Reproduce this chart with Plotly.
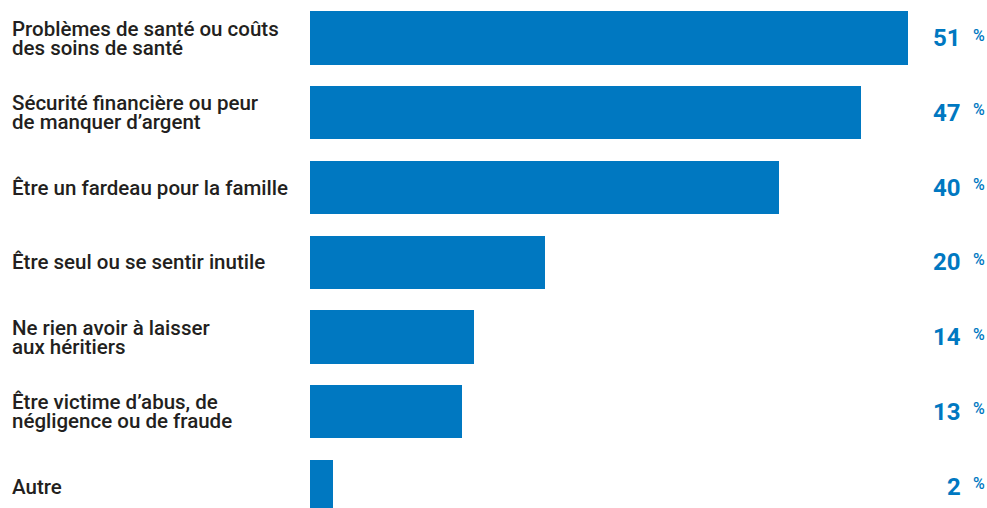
import plotly.graph_objects as go

categories = [
    "Problèmes de santé ou coûts<br>des soins de santé",
    "Sécurité financière ou peur<br>de manquer d’argent",
    "Être un fardeau pour la famille",
    "Être seul ou se sentir inutile",
    "Ne rien avoir à laisser<br>aux héritiers",
    "Être victime d’abus, de<br>négligence ou de fraude",
    "Autre",
]
values = [51, 47, 40, 20, 14, 13, 2]
value_labels = [str(v) for v in values]

BLUE = "#0078C1"
TEXT = "#231F20"
LABEL_FONT = "Roboto"
VALUE_FONT = "Roboto"

W, H = 987, 508
LEFT = 310
PX_PER_UNIT = 11.73
STEP = 74.75
FIRST_CENTER = 38

ypos = list(range(len(categories)))

fig = go.Figure(go.Bar(
    x=values, y=ypos, orientation="h",
    marker=dict(color=BLUE, line=dict(width=0)),
    width=0.71, hoverinfo="skip",
))

plot_w = W - LEFT
x_max = plot_w / PX_PER_UNIT
y_top = -FIRST_CENTER / STEP
y_bot = y_top + H / STEP

label_x = (10 - LEFT) / plot_w
num_x = (963 - LEFT) / plot_w
pct_x = (971 - LEFT) / plot_w

annotations = []
for i, (cat, lab) in enumerate(zip(categories, value_labels)):
    lines = cat.split("<br>")
    n = len(lines)
    pitch = 19
    for k, line in enumerate(lines):
        shift = ((n - 1) / 2 - k) * pitch
        annotations.append(dict(
            x=label_x, y=i, xref="paper", yref="y", text=line, showarrow=False,
            xanchor="left", yanchor="middle", yshift=shift,
            font=dict(family=LABEL_FONT, size=20.5, color=TEXT, weight=500),
        ))
    annotations.append(dict(
        x=num_x, y=i, xref="paper", yref="y", text=lab, showarrow=False,
        xanchor="right", yanchor="middle",
        font=dict(family=VALUE_FONT, size=24, color=BLUE, weight="bold"),
    ))
    annotations.append(dict(
        x=pct_x, y=i, xref="paper", yref="y", text="%", showarrow=False,
        xanchor="left", yanchor="middle", yshift=3,
        font=dict(family=LABEL_FONT, size=16, color=BLUE, weight=500),
    ))

fig.update_layout(
    width=W, height=H,
    margin=dict(l=LEFT, r=0, t=0, b=0, pad=0),
    paper_bgcolor="white", plot_bgcolor="white",
    showlegend=False,
    xaxis=dict(range=[0, x_max], visible=False, fixedrange=True),
    yaxis=dict(range=[y_bot, y_top], visible=False, fixedrange=True),
    annotations=annotations,
    bargap=0,
)

fig.write_html(
    "out.html",
    config={"displayModeBar": False},
    post_script="document.body.style.margin='0';document.body.style.overflow='hidden';",
)
